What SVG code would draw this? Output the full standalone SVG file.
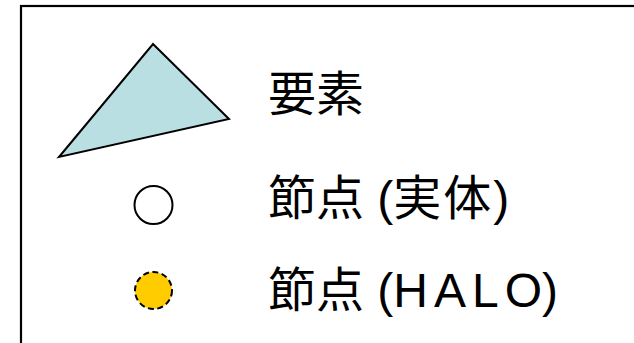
<svg xmlns="http://www.w3.org/2000/svg" width="634" height="343" viewBox="0 0 634 343">
  <style>
    .lbl { font-family: "Liberation Sans", "Noto Sans CJK JP", sans-serif; font-size: 48px; fill: #000; }
    .shape { stroke: #000; stroke-width: 2; }
  </style>
  <rect x="21" y="6" width="640" height="360" fill="#fff" stroke="#000" stroke-width="2.2"/>
  <g id="element">
    <polygon class="shape" points="153,44 229,119 59,157" fill="#BADFE2" stroke-linejoin="miter"/>
    <text class="lbl" x="268" y="111">要素</text>
  </g>
  <g id="node-real">
    <circle class="shape" cx="153.5" cy="205" r="19" fill="#fff"/>
    <text class="lbl" x="268" y="215">節点 (<tspan letter-spacing="2">実体</tspan>)</text>
  </g>
  <g id="node-halo">
    <circle class="shape" cx="153.5" cy="290.5" r="18.5" fill="#FFCC00" stroke-dasharray="6,3.5"/>
    <text class="lbl" x="268" y="307">節点 (<tspan letter-spacing="6">HAL</tspan>O)</text>
  </g>
  <g id="connectors"/>
</svg>
